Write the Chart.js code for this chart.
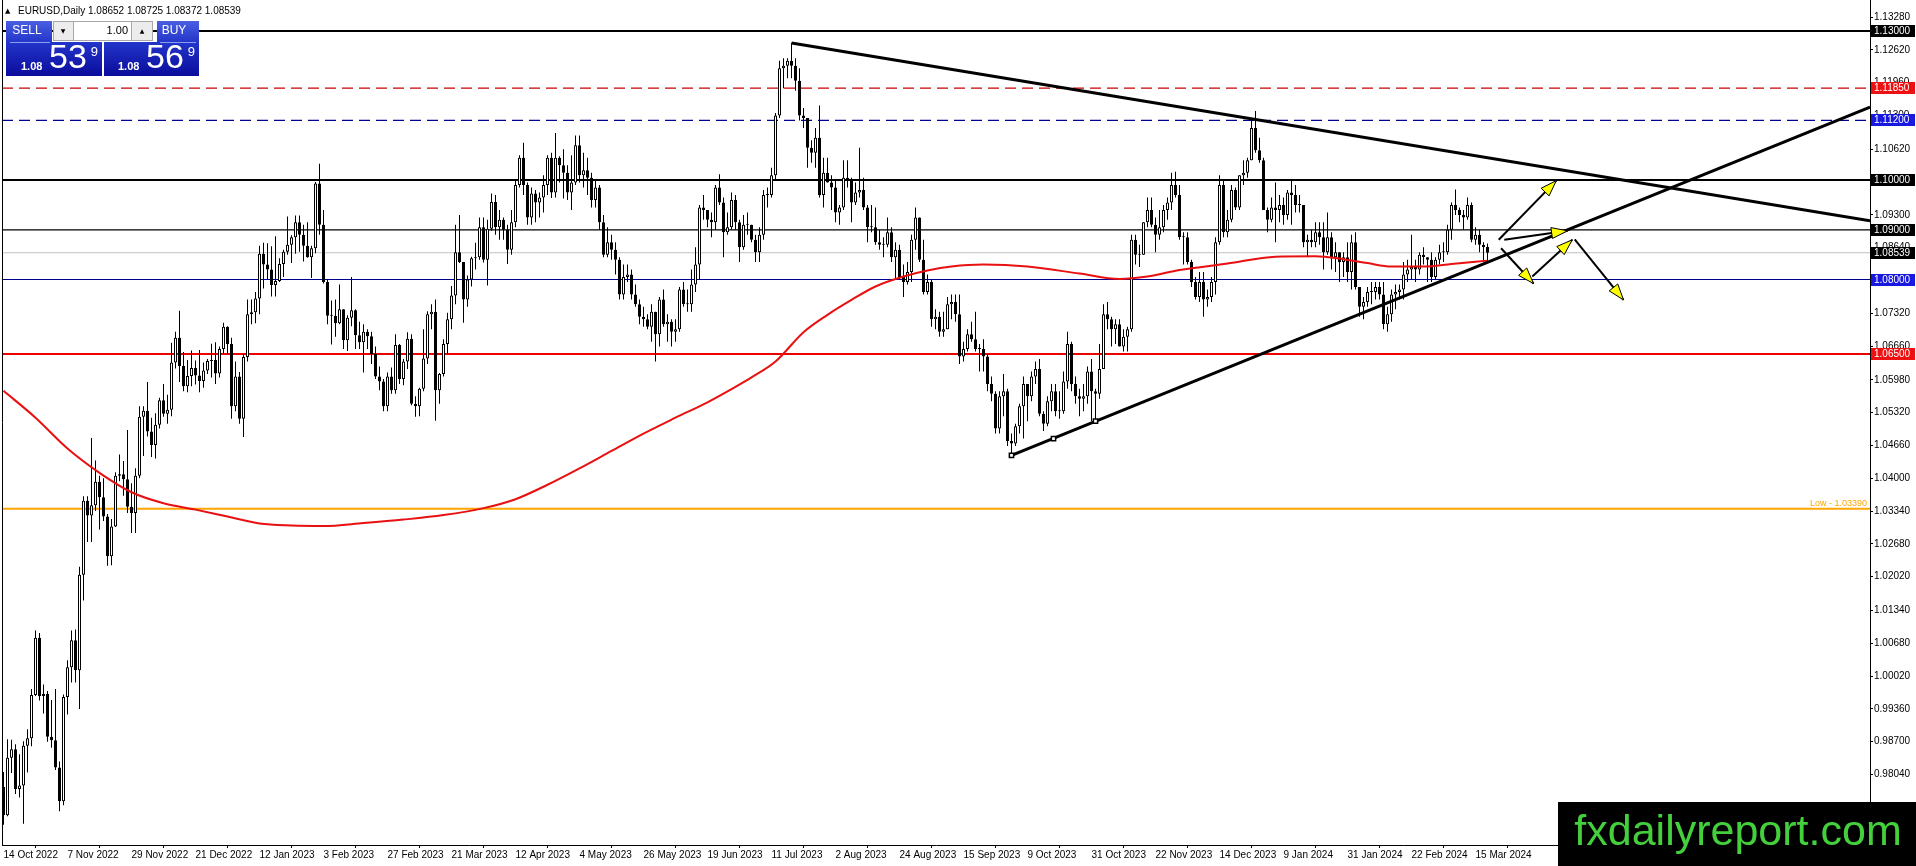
<!DOCTYPE html>
<html><head><meta charset="utf-8">
<script src="https://cdn.jsdelivr.net/npm/chart.js@4.4.1/dist/chart.umd.min.js"></script>
<style>html,body{margin:0;padding:0;background:#fff;overflow:hidden}#wrap{position:relative;width:1916px;height:866px}</style>
</head><body><div id="wrap"><canvas id="c" width="1916" height="866"></canvas></div>
<script>
// ---------------- DATA ----------------
const titleText = "EURUSD,Daily 1.08652 1.08725 1.08372 1.08539";
const sellBig = ["1.08","53","9"];
const buyBig = ["1.08","56","9"];
const lotText = "1.00";

const opens = [
0.9779,0.9722,0.9838,0.9855,0.9775,0.9782,0.9862,0.9877,0.9964,1.0079,0.9962,0.9966,0.9880,0.9873,0.9818,0.9750,
0.9960,1.0020,1.0074,1.0014,1.0206,1.0355,1.0325,1.0346,1.0393,1.0362,1.0323,1.0243,1.0303,1.0405,1.0408,1.0398,
1.0343,1.0330,1.0405,1.0524,1.0536,1.0494,1.0467,1.0508,1.0557,1.0530,1.0538,1.0633,1.0683,1.0626,1.0585,1.0606,
1.0622,1.0607,1.0596,1.0617,1.0636,1.0638,1.0611,1.0660,1.0705,1.0670,1.0545,1.0605,1.0520,1.0644,1.0730,1.0734,
1.0762,1.0852,1.0830,1.0820,1.0789,1.0797,1.0831,1.0856,1.0870,1.0885,1.0915,1.0890,1.0868,1.0845,1.0863,1.0993,
1.0910,1.0795,1.0727,1.0727,1.0712,1.0740,1.0678,1.0723,1.0738,1.0688,1.0674,1.0695,1.0686,1.0650,1.0605,1.0595,
1.0545,1.0605,1.0577,1.0668,1.0600,1.0635,1.0681,1.0550,1.0545,1.0580,1.0641,1.0730,1.0735,1.0577,1.0610,1.0670,
1.0720,1.0768,1.0855,1.0835,1.0760,1.0800,1.0843,1.0845,1.0905,1.0840,1.0902,1.0956,1.0905,1.0920,1.0900,1.0860,
1.0915,1.0990,1.1045,1.0990,1.0925,1.0973,1.0955,1.0965,1.0990,1.1045,1.0975,1.1045,1.1030,1.1015,1.0975,1.0995,
1.1070,1.1010,1.1020,1.1005,1.0960,1.0985,1.0915,1.0850,1.0875,1.0860,1.0840,1.0770,1.0805,1.0810,1.0770,1.0750,
1.0725,1.0720,1.0705,1.0735,1.0690,1.0760,1.0710,1.0715,1.0695,1.0700,1.0780,1.0750,1.0750,1.0790,1.0830,1.0945,
1.0940,1.0920,1.0915,1.0985,1.0955,1.0895,1.0905,1.0960,1.0915,1.0865,1.0910,1.0910,1.0880,1.0855,1.0890,1.0970,
1.0970,1.1010,1.1130,1.1225,1.1230,1.1240,1.1230,1.1200,1.1130,1.1125,1.1065,1.1055,1.1085,1.0970,1.1015,1.0995,
1.0985,1.0935,1.0945,1.1005,1.1000,1.0955,1.0975,1.0980,1.0945,1.0905,1.0905,1.0875,1.0870,1.0870,1.0895,1.0845,
1.0860,1.0805,1.0795,1.0815,1.0880,1.0925,1.0840,1.0775,1.0795,1.0720,1.0725,1.0695,1.0700,1.0750,1.0755,1.0730,
1.0645,1.0660,1.0690,1.0680,1.0660,1.0660,1.0645,1.0590,1.0570,1.0500,1.0565,1.0575,1.0475,1.0470,1.0505,1.0545,
1.0590,1.0565,1.0605,1.0620,1.0530,1.0510,1.0555,1.0575,1.0535,1.0535,1.0595,1.0670,1.0590,1.0565,1.0560,1.0565,
1.0615,1.0575,1.0570,1.0620,1.0730,1.0720,1.0700,1.0710,1.0665,1.0685,1.0700,1.0880,1.0850,1.0850,1.0915,1.0940,
1.0910,1.0890,1.0905,1.0940,1.0955,1.0990,1.0970,1.0885,1.0885,1.0835,1.0795,1.0765,1.0795,1.0760,1.0765,1.0795,
1.0875,1.0990,1.0895,1.0920,1.0980,1.0945,1.1010,1.1015,1.1040,1.1105,1.1060,1.1040,1.0940,1.0920,1.0945,1.0940,
1.0950,1.0930,1.0975,1.0970,1.0950,1.0950,1.0875,1.0880,1.0875,1.0895,1.0885,1.0855,1.0885,1.0845,1.0855,1.0835,
1.0845,1.0815,1.0875,1.0785,1.0745,1.0755,1.0775,1.0775,1.0785,1.0770,1.0710,1.0730,1.0770,1.0775,1.0780,1.0810,
1.0820,1.0825,1.0820,1.0850,1.0845,1.0840,1.0805,1.0840,1.0855,1.0855,1.0900,1.0950,1.0940,1.0930,1.0925,1.0950,
1.0880,1.0890,1.0870,1.08652];

const highs = [
0.9809,0.9875,0.9874,0.9865,0.9845,0.9871,0.9895,0.9976,1.0094,1.0089,0.9985,0.9972,0.9954,0.9976,0.9830,0.9965,
1.0034,1.0094,1.0096,1.0222,1.0364,1.0364,1.0481,1.0436,1.0405,1.0400,1.0328,1.0318,1.0412,1.0448,1.0435,1.0497,
1.0390,1.0420,1.0545,1.0545,1.0594,1.0522,1.0531,1.0562,1.0590,1.0568,1.0673,1.0695,1.0737,1.0654,1.0638,1.0657,
1.0637,1.0658,1.0633,1.0640,1.0671,1.0674,1.0665,1.0713,1.0706,1.0683,1.0635,1.0614,1.0650,1.0760,1.0760,1.0775,
1.0868,1.0874,1.0873,1.0867,1.0887,1.0843,1.0860,1.0927,1.0889,1.0929,1.0929,1.0910,1.0915,1.0868,1.0996,1.1033,
1.0940,1.0800,1.0758,1.0760,1.0790,1.0740,1.0728,1.0805,1.0740,1.0715,1.0710,1.0700,1.0695,1.0665,1.0625,1.0600,
1.0613,1.0623,1.0690,1.0670,1.0640,1.0694,1.0690,1.0565,1.0582,1.0700,1.0736,1.0750,1.0760,1.0612,1.0680,1.0733,
1.0787,1.0910,1.0930,1.0835,1.0808,1.0846,1.0874,1.0925,1.0925,1.0920,1.0973,1.0970,1.0940,1.0925,1.0910,1.0940,
1.0998,1.1050,1.1075,1.0995,1.0985,1.0980,1.0975,1.1010,1.1050,1.1055,1.1095,1.1048,1.1062,1.1030,1.1050,1.1090,
1.1090,1.1055,1.1045,1.1015,1.1000,1.0990,1.0930,1.0905,1.0890,1.0875,1.0845,1.0830,1.0830,1.0820,1.0790,1.0760,
1.0745,1.0730,1.0750,1.0735,1.0765,1.0780,1.0730,1.0720,1.0720,1.0785,1.0795,1.0780,1.0820,1.0865,1.0950,1.0970,
1.0940,1.0935,1.0990,1.1012,1.0965,1.0935,1.0975,1.0970,1.0920,1.0930,1.0935,1.0910,1.0890,1.0905,1.0980,1.0985,
1.1025,1.1135,1.1240,1.1245,1.1245,1.1276,1.1245,1.1225,1.1145,1.1125,1.1080,1.1105,1.1150,1.1045,1.1045,1.1010,
1.1000,1.0950,1.1040,1.1040,1.1005,1.0995,1.1065,1.1005,1.0950,1.0950,1.0945,1.0900,1.0885,1.0925,1.0905,1.0875,
1.0870,1.0830,1.0835,1.0890,1.0945,1.0925,1.0880,1.0810,1.0800,1.0740,1.0735,1.0735,1.0765,1.0770,1.0770,1.0770,
1.0675,1.0700,1.0715,1.0735,1.0670,1.0680,1.0650,1.0605,1.0575,1.0575,1.0610,1.0580,1.0490,1.0510,1.0550,1.0605,
1.0590,1.0615,1.0635,1.0640,1.0535,1.0565,1.0590,1.0590,1.0575,1.0615,1.0695,1.0675,1.0605,1.0580,1.0590,1.0625,
1.0640,1.0580,1.0670,1.0750,1.0755,1.0725,1.0720,1.0720,1.0700,1.0705,1.0890,1.0890,1.0870,1.0915,1.0965,1.0965,
1.0925,1.0940,1.0950,1.0965,1.1015,1.1017,1.0990,1.0895,1.0895,1.0840,1.0805,1.0815,1.0815,1.0780,1.0805,1.0885,
1.1010,1.1000,1.0940,1.0990,1.0985,1.1010,1.1040,1.1045,1.1120,1.1139,1.1085,1.1045,1.0945,1.0965,1.0995,1.0970,
1.0965,1.0980,1.0998,1.0990,1.0970,1.0950,1.0890,1.0900,1.0915,1.0915,1.0915,1.0935,1.0895,1.0875,1.0855,1.0855,
1.0875,1.0890,1.0895,1.0785,1.0765,1.0785,1.0795,1.0795,1.0795,1.0795,1.0745,1.0780,1.0790,1.0790,1.0835,1.0840,
1.0890,1.0840,1.0855,1.0865,1.0845,1.0855,1.0845,1.0870,1.0875,1.0910,1.0955,1.0981,1.0945,1.0940,1.0965,1.0955,
1.0905,1.0900,1.0875,1.08725];

const lows = [
0.9703,0.9720,0.9807,0.9765,0.9758,0.9705,0.9808,0.9861,0.9962,0.9953,0.9927,0.9870,0.9858,0.9813,0.9730,0.9742,
0.9925,0.9989,0.9989,0.9936,1.0154,1.0272,1.0272,1.0334,1.0297,1.0314,1.0224,1.0225,1.0302,1.0394,1.0365,1.0330,
1.0290,1.0290,1.0400,1.0445,1.0484,1.0443,1.0440,1.0500,1.0524,1.0510,1.0525,1.0621,1.0594,1.0575,1.0573,1.0585,
1.0589,1.0573,1.0582,1.0610,1.0603,1.0590,1.0603,1.0650,1.0650,1.0520,1.0535,1.0510,1.0483,1.0635,1.0710,1.0712,
1.0730,1.0782,1.0800,1.0766,1.0766,1.0795,1.0805,1.0850,1.0833,1.0852,1.0856,1.0836,1.0844,1.0803,1.0853,1.0890,
1.0792,1.0710,1.0669,1.0685,1.0710,1.0660,1.0656,1.0706,1.0660,1.0660,1.0613,1.0660,1.0630,1.0600,1.0577,1.0535,
1.0535,1.0570,1.0570,1.0590,1.0587,1.0620,1.0547,1.0524,1.0525,1.0575,1.0630,1.0700,1.0516,1.0550,1.0605,1.0650,
1.0700,1.0750,1.0833,1.0713,1.0745,1.0786,1.0820,1.0840,1.0834,1.0788,1.0898,1.0890,1.0880,1.0880,1.0831,1.0850,
1.0905,1.0985,1.0970,1.0910,1.0910,1.0915,1.0925,1.0935,1.0970,1.0964,1.0965,1.0995,1.0963,1.0960,1.0940,1.0990,
1.0995,1.0985,1.0970,1.0945,1.0945,1.0900,1.0845,1.0845,1.0840,1.0810,1.0760,1.0760,1.0795,1.0760,1.0745,1.0710,
1.0705,1.0700,1.0675,1.0635,1.0665,1.0705,1.0675,1.0665,1.0675,1.0695,1.0745,1.0735,1.0735,1.0775,1.0800,1.0920,
1.0905,1.0885,1.0900,1.0950,1.0845,1.0890,1.0900,1.0900,1.0835,1.0860,1.0890,1.0875,1.0835,1.0835,1.0880,1.0945,
1.0965,1.1000,1.1125,1.1185,1.1205,1.1205,1.1180,1.1120,1.1105,1.1025,1.1035,1.1025,1.0965,1.0945,1.0995,1.0940,
1.0915,1.0910,1.0940,1.0985,1.0915,1.0950,1.0965,1.0940,1.0875,1.0895,1.0870,1.0860,1.0845,1.0865,1.0835,1.0800,
1.0800,1.0765,1.0790,1.0795,1.0860,1.0835,1.0770,1.0770,1.0705,1.0700,1.0685,1.0685,1.0700,1.0720,1.0715,1.0630,
1.0635,1.0655,1.0675,1.0655,1.0615,1.0615,1.0575,1.0555,1.0490,1.0490,1.0525,1.0465,1.0448,1.0465,1.0490,1.0480,
1.0515,1.0555,1.0590,1.0525,1.0495,1.0505,1.0535,1.0525,1.0520,1.0530,1.0580,1.0575,1.0550,1.0525,1.0535,1.0550,
1.0515,1.0515,1.0560,1.0620,1.0700,1.0665,1.0670,1.0665,1.0655,1.0655,1.0695,1.0830,1.0825,1.0850,1.0905,1.0905,
1.0855,1.0880,1.0895,1.0920,1.0940,1.0965,1.0880,1.0830,1.0830,1.0785,1.0760,1.0755,1.0725,1.0745,1.0755,1.0770,
1.0870,1.0885,1.0885,1.0915,1.0940,1.0940,1.0990,1.1005,1.1040,1.1055,1.1035,1.0940,1.0895,1.0915,1.0875,1.0915,
1.0910,1.0920,1.0910,1.0935,1.0935,1.0865,1.0845,1.0865,1.0865,1.0870,1.0820,1.0850,1.0820,1.0815,1.0795,1.0805,
1.0795,1.0780,1.0780,1.0725,1.0720,1.0745,1.0750,1.0760,1.0760,1.0700,1.0695,1.0715,1.0740,1.0760,1.0760,1.0795,
1.0800,1.0795,1.0810,1.0830,1.0795,1.0795,1.0800,1.0830,1.0835,1.0850,1.0880,1.0930,1.0915,1.0900,1.0920,1.0875,
1.0870,1.0855,1.0835,1.08372];

const closes = [
0.9722,0.9838,0.9855,0.9775,0.9782,0.9862,0.9877,0.9964,1.0079,0.9962,0.9966,0.9880,0.9873,0.9818,0.9750,0.9960,
1.0020,1.0074,1.0014,1.0206,1.0355,1.0325,1.0346,1.0393,1.0362,1.0323,1.0243,1.0303,1.0405,1.0408,1.0398,1.0343,
1.0330,1.0405,1.0524,1.0536,1.0494,1.0467,1.0508,1.0557,1.0530,1.0538,1.0633,1.0683,1.0626,1.0585,1.0606,1.0622,
1.0607,1.0596,1.0617,1.0636,1.0638,1.0611,1.0660,1.0705,1.0670,1.0545,1.0605,1.0520,1.0644,1.0730,1.0734,1.0762,
1.0852,1.0830,1.0820,1.0789,1.0797,1.0831,1.0856,1.0870,1.0885,1.0915,1.0890,1.0868,1.0845,1.0863,1.0993,1.0910,
1.0795,1.0727,1.0727,1.0712,1.0740,1.0678,1.0723,1.0738,1.0688,1.0674,1.0695,1.0686,1.0650,1.0605,1.0595,1.0545,
1.0605,1.0577,1.0668,1.0600,1.0635,1.0681,1.0550,1.0545,1.0580,1.0641,1.0730,1.0735,1.0577,1.0610,1.0670,1.0720,
1.0768,1.0855,1.0835,1.0760,1.0800,1.0843,1.0845,1.0905,1.0840,1.0902,1.0956,1.0905,1.0920,1.0900,1.0860,1.0915,
1.0990,1.1045,1.0990,1.0925,1.0973,1.0955,1.0965,1.0990,1.1045,1.0975,1.1045,1.1030,1.1015,1.0975,1.0995,1.1070,
1.1010,1.1020,1.1005,1.0960,1.0985,1.0915,1.0850,1.0875,1.0860,1.0840,1.0770,1.0805,1.0810,1.0770,1.0750,1.0725,
1.0720,1.0705,1.0735,1.0690,1.0760,1.0710,1.0715,1.0695,1.0700,1.0780,1.0750,1.0750,1.0790,1.0830,1.0945,1.0940,
1.0920,1.0915,1.0985,1.0955,1.0895,1.0905,1.0960,1.0915,1.0865,1.0910,1.0910,1.0880,1.0855,1.0890,1.0970,1.0970,
1.1010,1.1130,1.1225,1.1230,1.1240,1.1230,1.1200,1.1130,1.1125,1.1065,1.1055,1.1085,1.0970,1.1015,1.0995,1.0985,
1.0935,1.0945,1.1005,1.1000,1.0955,1.0975,1.0980,1.0945,1.0905,1.0905,1.0875,1.0870,1.0870,1.0895,1.0845,1.0860,
1.0805,1.0795,1.0815,1.0880,1.0925,1.0840,1.0775,1.0795,1.0720,1.0725,1.0695,1.0700,1.0750,1.0755,1.0730,1.0645,
1.0660,1.0690,1.0680,1.0660,1.0660,1.0645,1.0590,1.0570,1.0500,1.0565,1.0575,1.0475,1.0470,1.0505,1.0545,1.0590,
1.0565,1.0605,1.0620,1.0530,1.0510,1.0555,1.0575,1.0535,1.0535,1.0595,1.0670,1.0590,1.0565,1.0560,1.0565,1.0615,
1.0575,1.0570,1.0620,1.0730,1.0720,1.0700,1.0710,1.0665,1.0685,1.0700,1.0880,1.0850,1.0850,1.0915,1.0940,1.0910,
1.0890,1.0905,1.0940,1.0955,1.0990,1.0970,1.0885,1.0885,1.0835,1.0795,1.0765,1.0795,1.0760,1.0765,1.0795,1.0875,
1.0990,1.0895,1.0920,1.0980,1.0945,1.1010,1.1015,1.1040,1.1105,1.1060,1.1040,1.0940,1.0920,1.0945,1.0940,1.0950,
1.0930,1.0975,1.0970,1.0950,1.0950,1.0875,1.0880,1.0875,1.0895,1.0885,1.0855,1.0885,1.0845,1.0855,1.0835,1.0845,
1.0815,1.0875,1.0785,1.0745,1.0755,1.0775,1.0775,1.0785,1.0770,1.0710,1.0730,1.0770,1.0775,1.0780,1.0810,1.0820,
1.0825,1.0820,1.0850,1.0845,1.0840,1.0805,1.0840,1.0855,1.0855,1.0900,1.0950,1.0940,1.0930,1.0925,1.0950,1.0880,
1.0890,1.0870,1.0865,1.08539];

// moving average (red line): bar index -> value
const maBars   = [0,8,16,24,32,40,48,56,64,72,80,90,100,110,120,128,136,144,152,160,168,176,183,187,193,200,206,212,218,225,231,237,245,256,269,279,286,294,306,318,328,335,341,347,355,362,371];
const maValues = [1.0576,1.0522,1.0460,1.0411,1.0372,1.0350,1.0337,1.0323,1.0309,1.0305,1.0304,1.0310,1.0317,1.0326,1.0340,1.0358,1.0387,1.0420,1.0455,1.0490,1.0522,1.0553,1.0584,1.0603,1.0635,1.0694,1.0729,1.0759,1.0786,1.0806,1.0818,1.0826,1.0830,1.0826,1.0812,1.0801,1.0806,1.0819,1.0832,1.0846,1.0847,1.0841,1.0833,1.0826,1.0826,1.0831,1.0838];

// x axis date labels (bar index -> label)
const dateTickBars = [0,16,32,48,64,80,96,112,128,144,160,176,192,208,224,240,256,272,288,304,320,336,352,368];
const dateTickLabels = ["14 Oct 2022","7 Nov 2022","29 Nov 2022","21 Dec 2022","12 Jan 2023","3 Feb 2023","27 Feb 2023","21 Mar 2023","12 Apr 2023","4 May 2023","26 May 2023","19 Jun 2023","11 Jul 2023","2 Aug 2023","24 Aug 2023","15 Sep 2023","9 Oct 2023","31 Oct 2023","22 Nov 2023","14 Dec 2023","9 Jan 2024","31 Jan 2024","22 Feb 2024","15 Mar 2024"];

// y axis price ticks
const priceTicks = [1.1328,1.1262,1.1196,1.1130,1.1062,1.0996,1.0930,1.0864,1.0798,1.0732,1.0666,1.0598,1.0532,1.0466,1.0400,1.0334,1.0268,1.0202,1.0134,1.0068,1.0002,0.9936,0.9870,0.9804];

// horizontal levels
const levelValues = [1.13000,1.11850,1.11200,1.10000,1.09000,1.08539,1.08000,1.06500,1.03390];
const lowLabelText = "Low - 1.03390";

// trend lines (bar index, price)
const trendDownBars = [197,466.625];
const trendDownPrices = [1.1276,1.0918];
const trendUpBars = [252,466.625];
const trendUpPrices = [1.0446,1.1147];
const anchorBars = [252,262.5,273];
const anchorPrices = [1.0446,1.0480,1.0515];

// scenario arrows (start -> tip)
const arrowStartBars   = [373.8,375.2,374.4,382.2,392.8];
const arrowStartPrices = [1.0880,1.0880,1.0863,1.0806,1.0881];
const arrowTipBars     = [388.2,391.0,382.5,392.2,405.0];
const arrowTipPrices   = [1.0999,1.0898,1.0792,1.0880,1.0759];

const watermarkText = "fxdailyreport.com";

// ---------------- STYLE ----------------
const X_MIN = -0.375, X_MAX = 466.625;
const Y_MIN = 0.96622, Y_MAX = 1.13624;
const levelStyles = [
  {color:'#000000', width:2,   dash:[],     tag:'#000000'},
  {color:'#c80000', width:1.3, dash:[11,6], tag:'#ee1111'},
  {color:'#000090', width:1.2, dash:[11,6], tag:'#1818e0'},
  {color:'#000000', width:2,   dash:[],     tag:'#000000'},
  {color:'#000000', width:1.2, dash:[],     tag:'#000000'},
  {color:'#c0c0c0', width:1,   dash:[],     tag:'#000000'},
  {color:'#000090', width:1.2, dash:[],     tag:'#1818e0'},
  {color:'#ee0000', width:2,   dash:[],     tag:'#ee1111'},
  {color:'#ffa500', width:2,   dash:[],     tag:null}
];
const FONT = '"Liberation Sans", Arial, sans-serif';
Chart.defaults.font.family = FONT;
Chart.defaults.font.size = 10;
Chart.defaults.color = '#000';

// ---------------- DATASETS ----------------
const wickData = closes.map((c,i)=>({x:i, y:[lows[i], highs[i]]}));
const bodyData = closes.map((c,i)=>({x:i, y:[opens[i], c]}));
const bodyColors = closes.map((c,i)=> c >= opens[i] ? '#ffffff' : '#000000');

const datasets = [];
levelValues.forEach((v,k)=>{
  const s = levelStyles[k];
  datasets.push({type:'line', data:[{x:X_MIN,y:v},{x:X_MAX,y:v}], borderColor:s.color, borderWidth:s.width, borderDash:s.dash, pointRadius:0, order:20});
});
datasets.push({type:'bar', data:wickData, backgroundColor:'#000', borderWidth:0, barThickness:1, grouped:false, inflateAmount:0, order:12});
datasets.push({type:'bar', data:bodyData, backgroundColor:bodyColors, borderColor:'#000', borderWidth:1, borderSkipped:false, barThickness:3, grouped:false, minBarLength:1, inflateAmount:0, order:11});
datasets.push({type:'line', data:maBars.map((b,i)=>({x:b,y:maValues[i]})), borderColor:'#e81010', borderWidth:2, pointRadius:0, cubicInterpolationMode:'monotone', order:8});
datasets.push({type:'line', data:trendDownBars.map((b,i)=>({x:b,y:trendDownPrices[i]})), borderColor:'#000', borderWidth:3, pointRadius:0, order:5});
datasets.push({type:'line', data:trendUpBars.map((b,i)=>({x:b,y:trendUpPrices[i]})), borderColor:'#000', borderWidth:3, pointRadius:0, order:5});
datasets.push({type:'line', data:anchorBars.map((b,i)=>({x:b,y:anchorPrices[i]})), showLine:false, pointStyle:'rect', pointRadius:3, pointBackgroundColor:'#fff', pointBorderColor:'#000', pointBorderWidth:1.5, order:4});
arrowTipBars.forEach((b,k)=>{
  datasets.push({type:'line', data:[{x:arrowStartBars[k],y:arrowStartPrices[k]},{x:b,y:arrowTipPrices[k]}], borderColor:'#000', borderWidth:2, pointRadius:0, order:2});
});

// ---------------- PLUGIN ----------------
const overlay = {
  id:'overlay',
  afterDatasetsDraw(chart){
    const {ctx, scales:{x, y}, chartArea} = chart;
    ctx.save();
    ctx.beginPath(); ctx.rect(chartArea.left, chartArea.top, chartArea.right-chartArea.left, chartArea.bottom-chartArea.top); ctx.clip();
    for(let k=0;k<arrowTipBars.length;k++){
      const x0=x.getPixelForValue(arrowStartBars[k]), y0=y.getPixelForValue(arrowStartPrices[k]);
      const x1=x.getPixelForValue(arrowTipBars[k]), y1=y.getPixelForValue(arrowTipPrices[k]);
      const a=Math.atan2(y1-y0,x1-x0), L=16, W=5.5;
      const bx=x1-L*Math.cos(a), by=y1-L*Math.sin(a);
      ctx.beginPath();
      ctx.moveTo(x1,y1);
      ctx.lineTo(bx+W*Math.sin(a), by-W*Math.cos(a));
      ctx.lineTo(bx-W*Math.sin(a), by+W*Math.cos(a));
      ctx.closePath();
      ctx.fillStyle='#ffff00'; ctx.fill();
      ctx.strokeStyle='#000'; ctx.lineWidth=1; ctx.stroke();
    }
    const yl = y.getPixelForValue(levelValues[8]);
    ctx.fillStyle='#ffa500'; ctx.font='9px '+FONT; ctx.textAlign='right'; ctx.textBaseline='alphabetic';
    ctx.fillText(lowLabelText, chartArea.right-3, yl-3);
    ctx.restore();
  },
  afterDraw(chart){
    const {ctx, scales:{y}, chartArea} = chart;
    ctx.save();
    ctx.strokeStyle='#000'; ctx.lineWidth=1;
    ctx.beginPath(); ctx.moveTo(chartArea.left+0.5,0); ctx.lineTo(chartArea.left+0.5,chartArea.bottom); ctx.stroke();
    ctx.font='10px '+FONT; ctx.textBaseline='middle'; ctx.textAlign='left';
    levelValues.forEach((v,k)=>{
      const s=levelStyles[k]; if(!s.tag) return;
      const py=Math.round(y.getPixelForValue(v));
      ctx.fillStyle=s.tag; ctx.fillRect(chartArea.right+1, py-6, 44, 12);
      ctx.fillStyle='#fff'; ctx.fillText(v.toFixed(5), chartArea.right+4, py+0.5);
    });
    // title
    ctx.fillStyle='#000'; ctx.font='7px "DejaVu Sans", sans-serif'; ctx.textBaseline='middle';
    ctx.fillText('\u25B2', 5, 11);
    ctx.font='10px '+FONT; ctx.fillText(titleText, 18, 11);
    // trade panel
    const g = ctx.createLinearGradient(0,21,0,76);
    g.addColorStop(0,'#4a5ee2'); g.addColorStop(0.4,'#2234c8'); g.addColorStop(1,'#0a0c9c');
    ctx.fillStyle=g;
    ctx.fillRect(6,21,46,21); ctx.fillRect(6,42,96,34);
    ctx.fillRect(157,21,42,21); ctx.fillRect(104,42,95,34);
    ctx.strokeStyle='#8c9cf0'; ctx.lineWidth=1;
    ctx.beginPath(); ctx.moveTo(10,42.5); ctx.lineTo(50,42.5); ctx.moveTo(160,42.5); ctx.lineTo(196,42.5); ctx.stroke();
    ctx.fillStyle='#fff'; ctx.font='12px '+FONT; ctx.textAlign='center';
    ctx.fillText('SELL', 27, 31); ctx.fillText('BUY', 174, 31);
    ctx.fillStyle='#ececec'; ctx.fillRect(53,21,100,20);
    ctx.strokeStyle='#a8a8a8'; ctx.strokeRect(53.5,21.5,99,19);
    ctx.fillStyle='#fff'; ctx.fillRect(74,22,57,18);
    ctx.strokeRect(73.5,21.5,58,19);
    ctx.fillStyle='#000'; ctx.font='6px "DejaVu Sans", sans-serif';
    ctx.fillText('\u25BC', 63, 31); ctx.fillText('\u25B2', 142, 31);
    ctx.font='11px '+FONT; ctx.textAlign='right'; ctx.fillText(lotText, 128, 31);
    function bigPrice(parts, x0){
      ctx.textAlign='left'; ctx.textBaseline='alphabetic'; ctx.fillStyle='#fff';
      ctx.font='bold 11px '+FONT; ctx.fillText(parts[0], x0, 70);
      ctx.font='34px "Liberation Sans Narrow", '+FONT;
      const w = ctx.measureText(parts[1]).width;
      ctx.fillText(parts[1], x0+28, 68);
      ctx.font='13px '+FONT; ctx.fillText(parts[2], x0+28+w+4, 56);
    }
    bigPrice(sellBig, 21);
    bigPrice(buyBig, 118);
    ctx.fillStyle='#000'; ctx.fillRect(1558,802,358,64);
    ctx.fillStyle='#44d03c'; ctx.font='43px '+FONT; ctx.textAlign='center'; ctx.textBaseline='middle';
    ctx.fillText(watermarkText, 1738, 833);
    ctx.restore();
  }
};

new Chart(document.getElementById('c'), {
  type:'bar',
  data:{datasets},
  plugins:[overlay],
  options:{
    responsive:false, animation:false, devicePixelRatio:1, events:[],
    layout:{autoPadding:false, padding:{left:2,top:0,right:0,bottom:0}},
    plugins:{legend:{display:false}, tooltip:{enabled:false}},
    scales:{
      x:{type:'linear', min:X_MIN, max:X_MAX, offset:false,
         afterBuildTicks:s=>{s.ticks = dateTickBars.map(v=>({value:v}));},
         afterFit:s=>{s.height=21; s.paddingLeft=0; s.paddingRight=0;},
         ticks:{autoSkip:false, maxRotation:0, minRotation:0, align:'start', padding:1, font:{size:10}, color:'#000',
                callback:(v,i)=>dateTickLabels[i]},
         grid:{display:true, drawOnChartArea:false, drawTicks:true, tickLength:3, color:'#000'},
         border:{display:true, color:'#000', width:1}},
      y:{type:'linear', position:'right', min:Y_MIN, max:Y_MAX,
         afterBuildTicks:s=>{s.ticks = priceTicks.map(v=>({value:v}));},
         afterFit:s=>{s.width=46; s.paddingTop=0; s.paddingBottom=0;},
         ticks:{autoSkip:false, padding:1, font:{size:10}, color:'#000', callback:v=>v.toFixed(5)},
         grid:{display:true, drawOnChartArea:false, drawTicks:true, tickLength:3, color:'#000'},
         border:{display:true, color:'#000', width:1}}
    }
  }
});
</script>
</body></html>
